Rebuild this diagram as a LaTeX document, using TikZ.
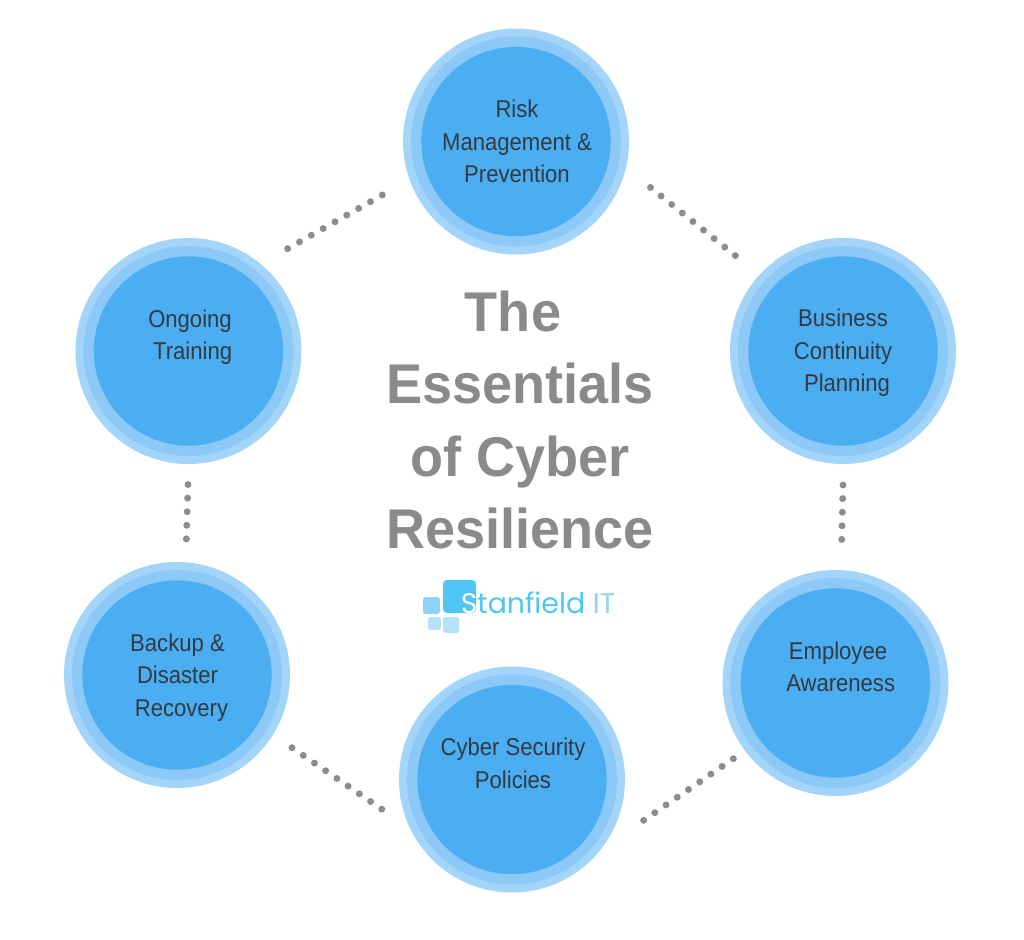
\documentclass[tikz,border=0pt]{standalone}
\usepackage{fontspec}
\setmainfont{Liberation Sans}
\newfontfamily\labelfont[FakeStretch=0.91]{Liberation Sans}
\newfontfamily\titlefont[FakeStretch=0.965]{Liberation Sans}
\newfontfamily\logofont{Poppins}
\definecolor{ringout}{HTML}{A3D4F9}
\definecolor{ringmid}{HTML}{8CC9F7}
\definecolor{ringin}{HTML}{4BADF2}
\definecolor{dotc}{HTML}{8C8C8C}
\definecolor{txt}{HTML}{333A40}
\definecolor{titlec}{HTML}{8A8A8A}
\definecolor{logoa}{HTML}{4FC6F5}
\definecolor{logob}{HTML}{8ED3F7}
\definecolor{logoc}{HTML}{B5E2FA}
\tikzset{
  x=0.75pt,y=-0.75pt,
  outerc/.style={circle,inner sep=0pt,minimum size=169.5pt,fill=ringout},
  midc/.style={circle,inner sep=0pt,minimum size=157.5pt,fill=ringmid},
  innerc/.style={circle,inner sep=0pt,minimum size=142pt,fill=ringin},
  lab/.style={text=txt,align=center,inner sep=0pt,font=\labelfont\fontsize{18.2pt}{24.3pt}\selectfont},
  dotline/.style={draw=dotc,line width=5.2pt,line cap=round,dash pattern=on 0pt off 10.2pt},
  titlet/.style={inner sep=0pt,text=titlec,font=\titlefont\bfseries\fontsize{42pt}{54pt}\selectfont,anchor=base},
}
\begin{document}
\begin{tikzpicture}
\useasboundingbox (0,0) rectangle (1024,939);
\fill[white] (0,0) rectangle (1024,939);
% dotted connectors
\coordinate (c1a) at (650.5,187.5);\coordinate (c1b) at (736.5,256.5);
\coordinate (c2a) at (843,485);\coordinate (c2b) at (841.7,541);
\coordinate (c3a) at (733.3,758.7);\coordinate (c3b) at (642.7,821);
\coordinate (c4a) at (292,747.7);\coordinate (c4b) at (383,810);
\coordinate (c5a) at (188,484.5);\coordinate (c5b) at (186.3,540.5);
\coordinate (c6a) at (382.3,195);\coordinate (c6b) at (287,249);
\foreach \a/\b in {c1a/c1b,c2a/c2b,c3a/c3b,c4a/c4b,c5a/c5b,c6a/c6b}
  \draw[dotline] (\a) -- (\b);
% circles
\foreach \n/\x/\y in {a/516/141.5,b/843/351,c/835.5/683,d/512/779.5,e/177/675,f/188.5/351}{
  \node[outerc] (o\n) at (\x,\y) {};
  \node[midc] (m\n) at (\x,\y) {};
}
\node[innerc] (risk) at (516,141.5) {};
\node[innerc] (bus) at (843,351) {};
\node[innerc] (emp) at (835.5,683) {};
\node[innerc] (pol) at (512,779.5) {};
\node[innerc] (bak) at (177,675) {};
\node[innerc] (ong) at (188.5,351) {};
\node[lab] (risktxt) at (517,141.5) {Risk\\Management \&\\Prevention};
\node[lab] (bustxt) at (843,353) {Business\\Continuity\\\hspace*{6pt}Planning};
\node[lab] (emptxt) at (838,667) {Employee\\\hspace*{4pt}Awareness};
\node[lab] (poltxt) at (513,763.5) {Cyber Security\\Policies};
\node[lab] (baktxt) at (177.5,677.5) {Backup \&\\Disaster\\\hspace*{6pt}Recovery};
\node[lab] (ongtxt) at (190,337) {Ongoing\\\hspace*{4pt}Training};
% title
\node[titlet] (t1) at (513,331) {The};
\node[titlet] (t2) at (520,403) {Essentials};
\node[titlet] (t3) at (520,476) {of Cyber};
\node[titlet] (t4) at (520,548) {Resilience};
% logo
\fill[rounded corners=2pt,logob] (423,597) rectangle (440,614);
\fill[rounded corners=3pt,logoa] (443,580) rectangle (476,613);
\fill[rounded corners=2pt,logoc] (428,617) rectangle (441,630);
\fill[rounded corners=2pt,logoc] (443,617) rectangle (459,633);
\node[inner sep=0pt,anchor=base west,text=logoa,font=\logofont\fontsize{21.3pt}{24pt}\selectfont] (logo) at (460.5,613) {\textcolor{white}{S}tanfield \textcolor{logob}{IT}};
\end{tikzpicture}
\end{document}
